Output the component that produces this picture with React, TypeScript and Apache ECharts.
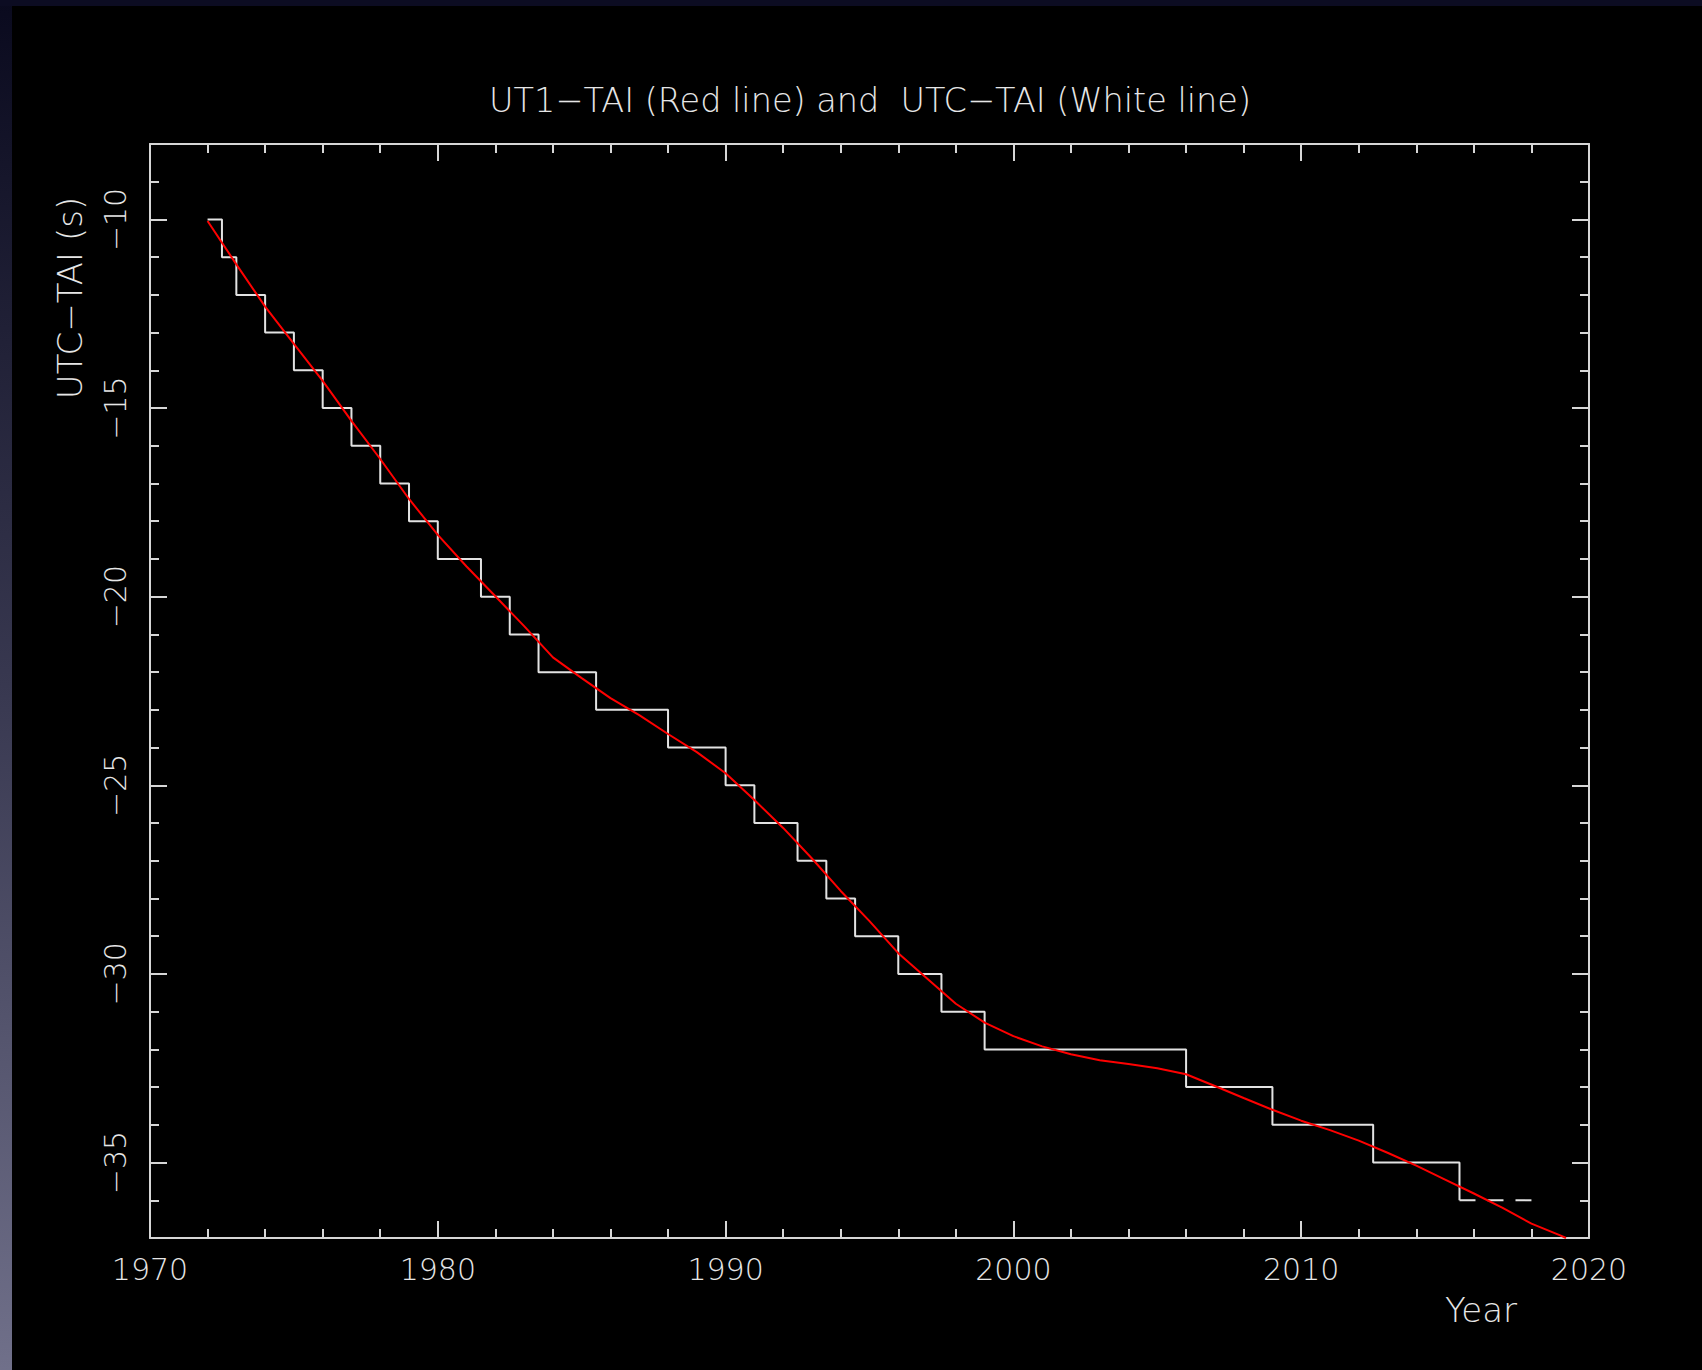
import React, { useEffect, useRef } from "react";
import * as echarts from "echarts";

// UT1-TAI (red line), seconds, by decimal year
const ut1Years = [
  1972, 1973, 1974, 1975, 1976, 1977, 1978, 1979, 1980, 1981, 1982, 1983, 1984, 1985,
  1986, 1987, 1988, 1989, 1990, 1991, 1992, 1993, 1994, 1995, 1996, 1997, 1998, 1999,
  2000, 2001, 2002, 2003, 2004, 2005, 2006, 2007, 2008, 2009, 2010, 2011, 2012, 2013,
  2014, 2015, 2016, 2017, 2018, 2019, 2019.2,
];
const ut1Tai = [
  -10.04, -11.19, -12.31, -13.3, -14.28, -15.34, -16.35, -17.41, -18.36, -19.2, -19.99,
  -20.78, -21.61, -22.16, -22.69, -23.14, -23.64, -24.12, -24.68, -25.39, -26.13, -26.94,
  -27.8, -28.6, -29.45, -30.12, -30.79, -31.29, -31.65, -31.92, -32.13, -32.29, -32.39,
  -32.5, -32.66, -32.97, -33.29, -33.6, -33.89, -34.14, -34.42, -34.74, -35.08, -35.45,
  -35.82, -36.2, -36.62, -36.93, -37.0,
];

// UTC-TAI (white step line): dates of leap seconds and value after each
const leapDates = [
  1972.0, 1972.5, 1973.0, 1974.0, 1975.0, 1976.0, 1977.0, 1978.0, 1979.0, 1980.0, 1981.5,
  1982.5, 1983.5, 1985.5, 1988.0, 1990.0, 1991.0, 1992.5, 1993.5, 1994.5, 1996.0, 1997.5,
  1999.0, 2006.0, 2009.0, 2012.5, 2015.5,
];
const utcTai = [
  -10, -11, -12, -13, -14, -15, -16, -17, -18, -19, -20, -21, -22, -23, -24, -25, -26, -27,
  -28, -29, -30, -31, -32, -33, -34, -35, -36,
];
// predicted continuation (dashed)
const predictedDates = [2015.5, 2018.0];
const predictedUtcTai = [-36, -36];

const yMajorTicks = [-35, -30, -25, -20, -15, -10];
const yMinorTicks = [
  -37, -36, -35, -34, -33, -32, -31, -30, -29, -28, -27, -26, -25, -24, -23, -22, -21, -20,
  -19, -18, -17, -16, -15, -14, -13, -12, -11, -10, -9, -8,
];

const titleText = "UT1\u2212TAI (Red line) and  UTC\u2212TAI (White line)";
const yNameText = "UTC\u2212TAI (s)";
const xNameText = "Year";

export default function App() {
  const ref = useRef<HTMLDivElement>(null);

  useEffect(() => {
    document.body.style.margin = "0";
    document.body.style.background = "#000";
    const chart = echarts.init(ref.current!, null, { renderer: "svg" });

    const axisColor = "#d6d6d6";
    const textColor = "#e6e6e6";
    const font = "DejaVu Sans";
    const lineStyle = { color: axisColor, width: 2 };

    const xAxisDef = (pos: string, showLabel: boolean) => ({
      type: "value",
      position: pos,
      min: 1970,
      max: 2020,
      interval: 10,
      axisLine: { show: true, onZero: false, lineStyle },
      axisTick: { show: true, inside: true, length: 17, lineStyle },
      minorTick: { show: true, splitNumber: 5, length: 9, lineStyle },
      axisLabel: {
        show: showLabel,
        color: textColor,
        fontSize: 30,
        fontFamily: font,
        fontWeight: 200,
        margin: 16,
        formatter: (v: number) => String(v),
      },
      splitLine: { show: false },
      minorSplitLine: { show: false },
    });

    const yAxisDef = (pos: string, major: boolean) => ({
      type: "value",
      position: pos,
      offset: 0,
      min: -37,
      max: -8,
      axisLine: { show: major, onZero: false, lineStyle },
      axisTick: {
        show: true,
        inside: true,
        length: major ? 17 : 9,
        customValues: major ? yMajorTicks : yMinorTicks,
        lineStyle,
      },
      axisLabel: {
        show: major && pos === "left",
        customValues: yMajorTicks,
        rotate: 90,
        color: textColor,
        fontSize: 30,
        fontFamily: font,
        fontWeight: 200,
        margin: 20,
        formatter: (v: number) => (v < 0 ? "\u2212" + Math.abs(v) : String(v)),
      },
      splitLine: { show: false },
    });

    chart.setOption({
      animation: false,
      backgroundColor: "#000000",
      grid: { left: 150, top: 144, width: 1439, height: 1094, containLabel: false },
      xAxis: [xAxisDef("bottom", true), xAxisDef("top", false)],
      yAxis: [
        yAxisDef("left", true),
        yAxisDef("left", false),
        yAxisDef("right", true),
        yAxisDef("right", false),
      ],
      graphic: [
        {
          type: "rect",
          shape: { x: 0, y: 0, width: 12, height: 1370 },
          style: {
            fill: new echarts.graphic.LinearGradient(0, 0, 0, 1, [
              { offset: 0, color: "#0a0a1e" },
              { offset: 0.5, color: "#383850" },
              { offset: 1, color: "#70708a" },
            ]),
          },
          silent: true,
        },
        {
          type: "rect",
          shape: { x: 0, y: 0, width: 1702, height: 6 },
          style: { fill: "#0c0c22" },
          silent: true,
        },
        {
          type: "text",
          x: 870,
          y: 100,
          style: {
            text: titleText,
            fill: textColor,
            font: `200 33.5px "${font}"`,
            align: "center",
            verticalAlign: "middle",
          },
        },
        {
          type: "text",
          x: 1481,
          y: 1310,
          style: {
            text: xNameText,
            fill: textColor,
            font: `200 34px "${font}"`,
            align: "center",
            verticalAlign: "middle",
          },
        },
        {
          type: "text",
          x: 70,
          y: 298,
          rotation: Math.PI / 2,
          style: {
            text: yNameText,
            fill: textColor,
            font: `200 34px "${font}"`,
            align: "center",
            verticalAlign: "middle",
          },
        },
      ],
      series: [
        {
          name: "UTC-TAI",
          type: "line",
          step: "end",
          xAxisIndex: 0,
          yAxisIndex: 0,
          symbol: "none",
          showSymbol: false,
          silent: true,
          data: leapDates.map((d, i) => [d, utcTai[i]]),
          lineStyle: { color: "#e2e2e2", width: 2 },
          z: 2,
        },
        {
          name: "UTC-TAI predicted",
          type: "line",
          xAxisIndex: 0,
          yAxisIndex: 0,
          symbol: "none",
          showSymbol: false,
          silent: true,
          data: predictedDates.map((d, i) => [d, predictedUtcTai[i]]),
          lineStyle: { color: "#e2e2e2", width: 2, type: [16, 12] },
          z: 2,
        },
        {
          name: "UT1-TAI",
          type: "line",
          xAxisIndex: 0,
          yAxisIndex: 0,
          symbol: "none",
          showSymbol: false,
          silent: true,
          data: ut1Years.map((d, i) => [d, ut1Tai[i]]),
          lineStyle: { color: "#ff0000", width: 2 },
          z: 3,
        },
      ],
    });

    return () => chart.dispose();
  }, []);

  return <div ref={ref} style={{ width: 1702, height: 1370, background: "#000" }} />;
}
